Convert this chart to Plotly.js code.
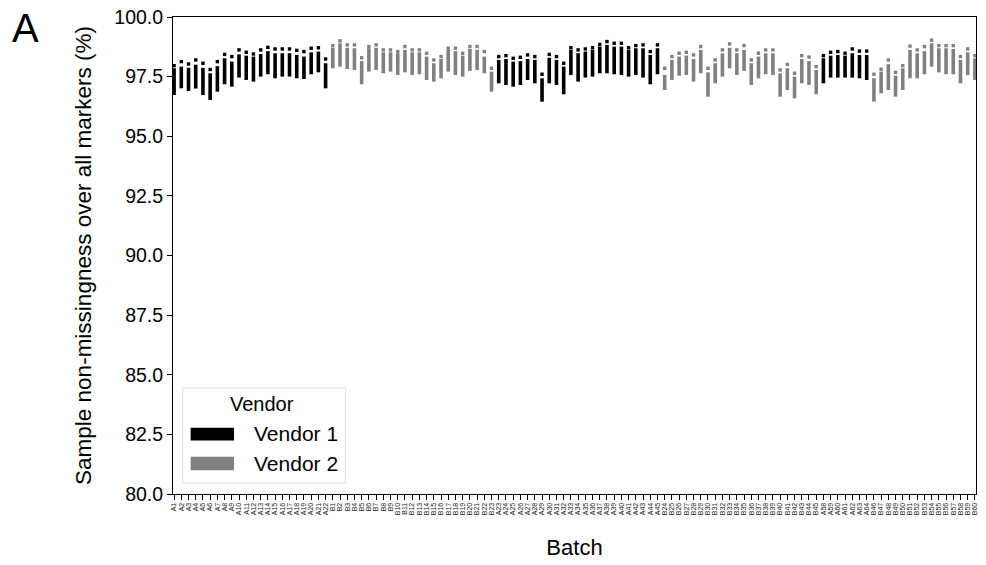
<!DOCTYPE html>
<html>
<head>
<meta charset="utf-8">
<script src="https://cdn.plot.ly/plotly-3.0.1.min.js"></script>
<style>
  html, body { margin: 0; padding: 0; background: #ffffff; }
  #chart { width: 986px; height: 565px; }
</style>
</head>
<body>
<div id="chart"></div>
<script>
// Batches in plotting order
const batches = [
  "A1","A2","A3","A4","A5","A6","A7","A8","A9","A10","A11","A12","A13","A14","A15","A16","A17","A18","A19","A20","A21","A22",
  "B1","B2","B3","B4","B5","B6","B7","B8","B9","B10","B11","B12","B13","B14","B15","B16","B17","B18","B19","B20","B21","B22","B23",
  "A23","A24","A25","A26","A27","A28","A29","A30","A31","A32","A33","A34","A35","A36","A37","A38","A39","A40","A41","A42","A43","A44","A45",
  "B24","B25","B26","B27","B28","B29","B30","B31","B32","B33","B34","B35","B36","B37","B38","B39","B40","B41","B42","B43","B44","B45",
  "A58","A59","A60","A61","A62","A63","A64",
  "B46","B47","B48","B49","B50","B51","B52","B53","B54","B55","B56","B57","B58","B59","B60"
];

// Upper whisker end per batch (%)
const whiskerHigh = [
  97.85,97.92,97.87,98.00,97.87,97.64,97.94,98.27,98.13,98.43,98.38,98.34,98.45,98.57,98.48,98.48,98.48,98.41,98.34,98.52,98.55,98.06,
  98.71,98.90,98.71,98.69,98.15,98.69,98.71,98.52,98.52,98.48,98.62,98.52,98.52,98.34,98.06,98.24,98.62,98.57,98.38,98.66,98.62,98.34,97.71,
  98.20,98.24,98.13,98.15,98.24,98.20,97.43,98.29,98.20,97.92,98.62,98.48,98.55,98.62,98.76,98.83,98.76,98.76,98.62,98.69,98.69,98.41,98.69,
  97.57,98.20,98.34,98.38,98.24,98.62,97.68,98.06,98.48,98.71,98.48,98.62,98.06,98.34,98.48,98.48,97.64,97.85,97.50,98.24,98.15,97.78,
  98.27,98.38,98.41,98.38,98.48,98.41,98.41,
  97.43,97.71,98.02,97.54,97.85,98.62,98.48,98.57,98.90,98.69,98.69,98.66,98.20,98.52,98.27
];

// Lower whisker end per batch (%)
const whiskerLow = [
  96.73,97.01,96.90,97.00,96.73,96.52,96.87,97.18,97.08,97.46,97.36,97.29,97.50,97.60,97.43,97.50,97.50,97.43,97.40,97.60,97.68,97.01,
  97.85,97.92,97.82,97.78,97.18,97.71,97.78,97.64,97.71,97.57,97.68,97.57,97.60,97.36,97.29,97.43,97.71,97.57,97.50,97.74,97.78,97.64,96.87,
  97.22,97.15,97.08,97.15,97.36,97.22,96.45,97.22,97.15,96.76,97.57,97.29,97.46,97.50,97.64,97.64,97.60,97.57,97.50,97.57,97.46,97.18,97.60,
  96.94,97.36,97.54,97.57,97.29,97.64,96.66,97.22,97.50,97.85,97.57,97.74,97.15,97.43,97.60,97.57,96.66,96.94,96.59,97.22,97.15,96.76,
  97.22,97.46,97.46,97.46,97.46,97.43,97.36,
  96.45,96.80,96.94,96.66,96.94,97.43,97.43,97.60,97.92,97.68,97.60,97.60,97.22,97.57,97.36
];

// Highest flier above the upper whisker per batch (%)
const fliers = [
  97.96,98.13,98.03,98.20,98.06,97.80,98.13,98.43,98.34,98.62,98.52,98.45,98.62,98.73,98.66,98.66,98.66,98.60,98.55,98.69,98.71,98.24,
  98.80,99.00,98.83,98.83,98.29,98.76,98.83,98.62,98.62,98.55,98.76,98.62,98.62,98.48,98.20,98.34,98.69,98.69,98.48,98.76,98.76,98.55,97.85,
  98.34,98.38,98.27,98.31,98.41,98.34,97.60,98.43,98.34,98.06,98.71,98.62,98.66,98.71,98.85,98.97,98.90,98.90,98.71,98.80,98.83,98.55,98.83,
  97.85,98.34,98.48,98.52,98.41,98.76,97.85,98.20,98.62,98.87,98.62,98.80,98.20,98.48,98.62,98.62,97.78,98.01,97.64,98.38,98.32,97.92,
  98.38,98.52,98.55,98.48,98.66,98.57,98.57,
  97.60,97.81,98.20,97.68,97.96,98.78,98.62,98.76,99.03,98.80,98.80,98.80,98.34,98.66,98.38
];

const vendorNames = ["Vendor 1", "Vendor 2"];
const vendorColors = ["#000000", "#808080"];
const yTicks = [80.0, 82.5, 85.0, 87.5, 90.0, 92.5, 95.0, 97.5, 100.0];

const FONT = "Liberation Sans, Arial, sans-serif";

// Vendor is encoded in the batch prefix: A = Vendor 1, B = Vendor 2
function vendorIndex(b) { return b.charAt(0) === "A" ? 0 : 1; }

const traces = [];
vendorNames.forEach(function (name, vi) {
  const xs = [], base = [], len = [], fx = [], fy = [];
  batches.forEach(function (b, i) {
    if (vendorIndex(b) !== vi) return;
    xs.push(b);
    base.push(whiskerLow[i]);
    len.push(whiskerHigh[i] - whiskerLow[i]);
    fx.push(b);
    fy.push(fliers[i]);
  });
  traces.push({
    type: "bar",
    name: name,
    x: xs,
    base: base,
    y: len,
    width: 0.5,
    marker: { color: vendorColors[vi], line: { width: 0 } },
    showlegend: false,
    hoverinfo: "skip"
  });
  traces.push({
    type: "scatter",
    mode: "markers",
    name: name + " fliers",
    x: fx,
    y: fy,
    marker: { color: vendorColors[vi], size: 3.4, symbol: "square" },
    showlegend: false,
    hoverinfo: "skip"
  });
});

// Legend drawn by hand as a framed box with wide colour patches
const legendShapes = [
  { type: "rect", xref: "paper", yref: "paper", x0: 0.012, x1: 0.215, y0: 0.023, y1: 0.222,
    line: { color: "#dddddd", width: 1 }, fillcolor: "rgba(255,255,255,0.8)", layer: "above" },
  { type: "rect", xref: "paper", yref: "paper", x0: 0.022, x1: 0.076, y0: 0.112, y1: 0.139,
    line: { width: 0 }, fillcolor: vendorColors[0], layer: "above" },
  { type: "rect", xref: "paper", yref: "paper", x0: 0.022, x1: 0.076, y0: 0.050, y1: 0.078,
    line: { width: 0 }, fillcolor: vendorColors[1], layer: "above" }
];

const legendNotes = [
  { xref: "paper", yref: "paper", x: 0.1105, y: 0.189, text: "Vendor", showarrow: false,
    xanchor: "center", yanchor: "middle", font: { family: FONT, size: 20, color: "#000" } },
  { xref: "paper", yref: "paper", x: 0.098, y: 0.126, text: vendorNames[0], showarrow: false,
    xanchor: "left", yanchor: "middle", font: { family: FONT, size: 21, color: "#000" } },
  { xref: "paper", yref: "paper", x: 0.098, y: 0.064, text: vendorNames[1], showarrow: false,
    xanchor: "left", yanchor: "middle", font: { family: FONT, size: 21, color: "#000" } }
];

const panelLabel = {
  xref: "paper", yref: "paper", x: -0.184, y: 0.977, xanchor: "center", yanchor: "middle",
  text: "A", showarrow: false, font: { family: FONT, size: 40, color: "#000" }
};

const layout = {
  width: 986,
  height: 565,
  margin: { l: 173, r: 10, t: 17, b: 71, pad: 0 },
  paper_bgcolor: "#ffffff",
  plot_bgcolor: "#ffffff",
  barmode: "overlay",
  font: { family: FONT, color: "#000" },
  xaxis: {
    type: "category",
    categoryorder: "array",
    categoryarray: batches,
    tickmode: "array",
    tickvals: batches,
    ticktext: batches,
    range: [-0.15, batches.length - 1 + 0.15],
    tickangle: -90,
    tickfont: { family: FONT, size: 7, color: "#222" },
    ticks: "outside",
    ticklen: 5,
    tickwidth: 1,
    tickcolor: "#000",
    showline: true,
    linecolor: "#000",
    linewidth: 1,
    mirror: true,
    showgrid: false,
    zeroline: false,
    automargin: false,
    title: { text: "Batch", font: { family: FONT, size: 22, color: "#000" }, standoff: 25 }
  },
  yaxis: {
    range: [80, 100],
    tickvals: yTicks,
    ticktext: yTicks.map(function (v) { return v.toFixed(1); }),
    tickfont: { family: FONT, size: 19.5, color: "#000" },
    ticks: "outside",
    ticklen: 5,
    tickwidth: 1,
    tickcolor: "#000",
    showline: true,
    linecolor: "#000",
    linewidth: 1,
    mirror: true,
    showgrid: false,
    zeroline: false,
    automargin: false,
    title: { text: "Sample non-missingness over all markers (%)", font: { family: FONT, size: 22.5, color: "#000" }, standoff: 16 }
  },
  shapes: legendShapes,
  annotations: legendNotes.concat([panelLabel])
};

Plotly.newPlot("chart", traces, layout, { staticPlot: true, displayModeBar: false });
</script>
</body>
</html>
